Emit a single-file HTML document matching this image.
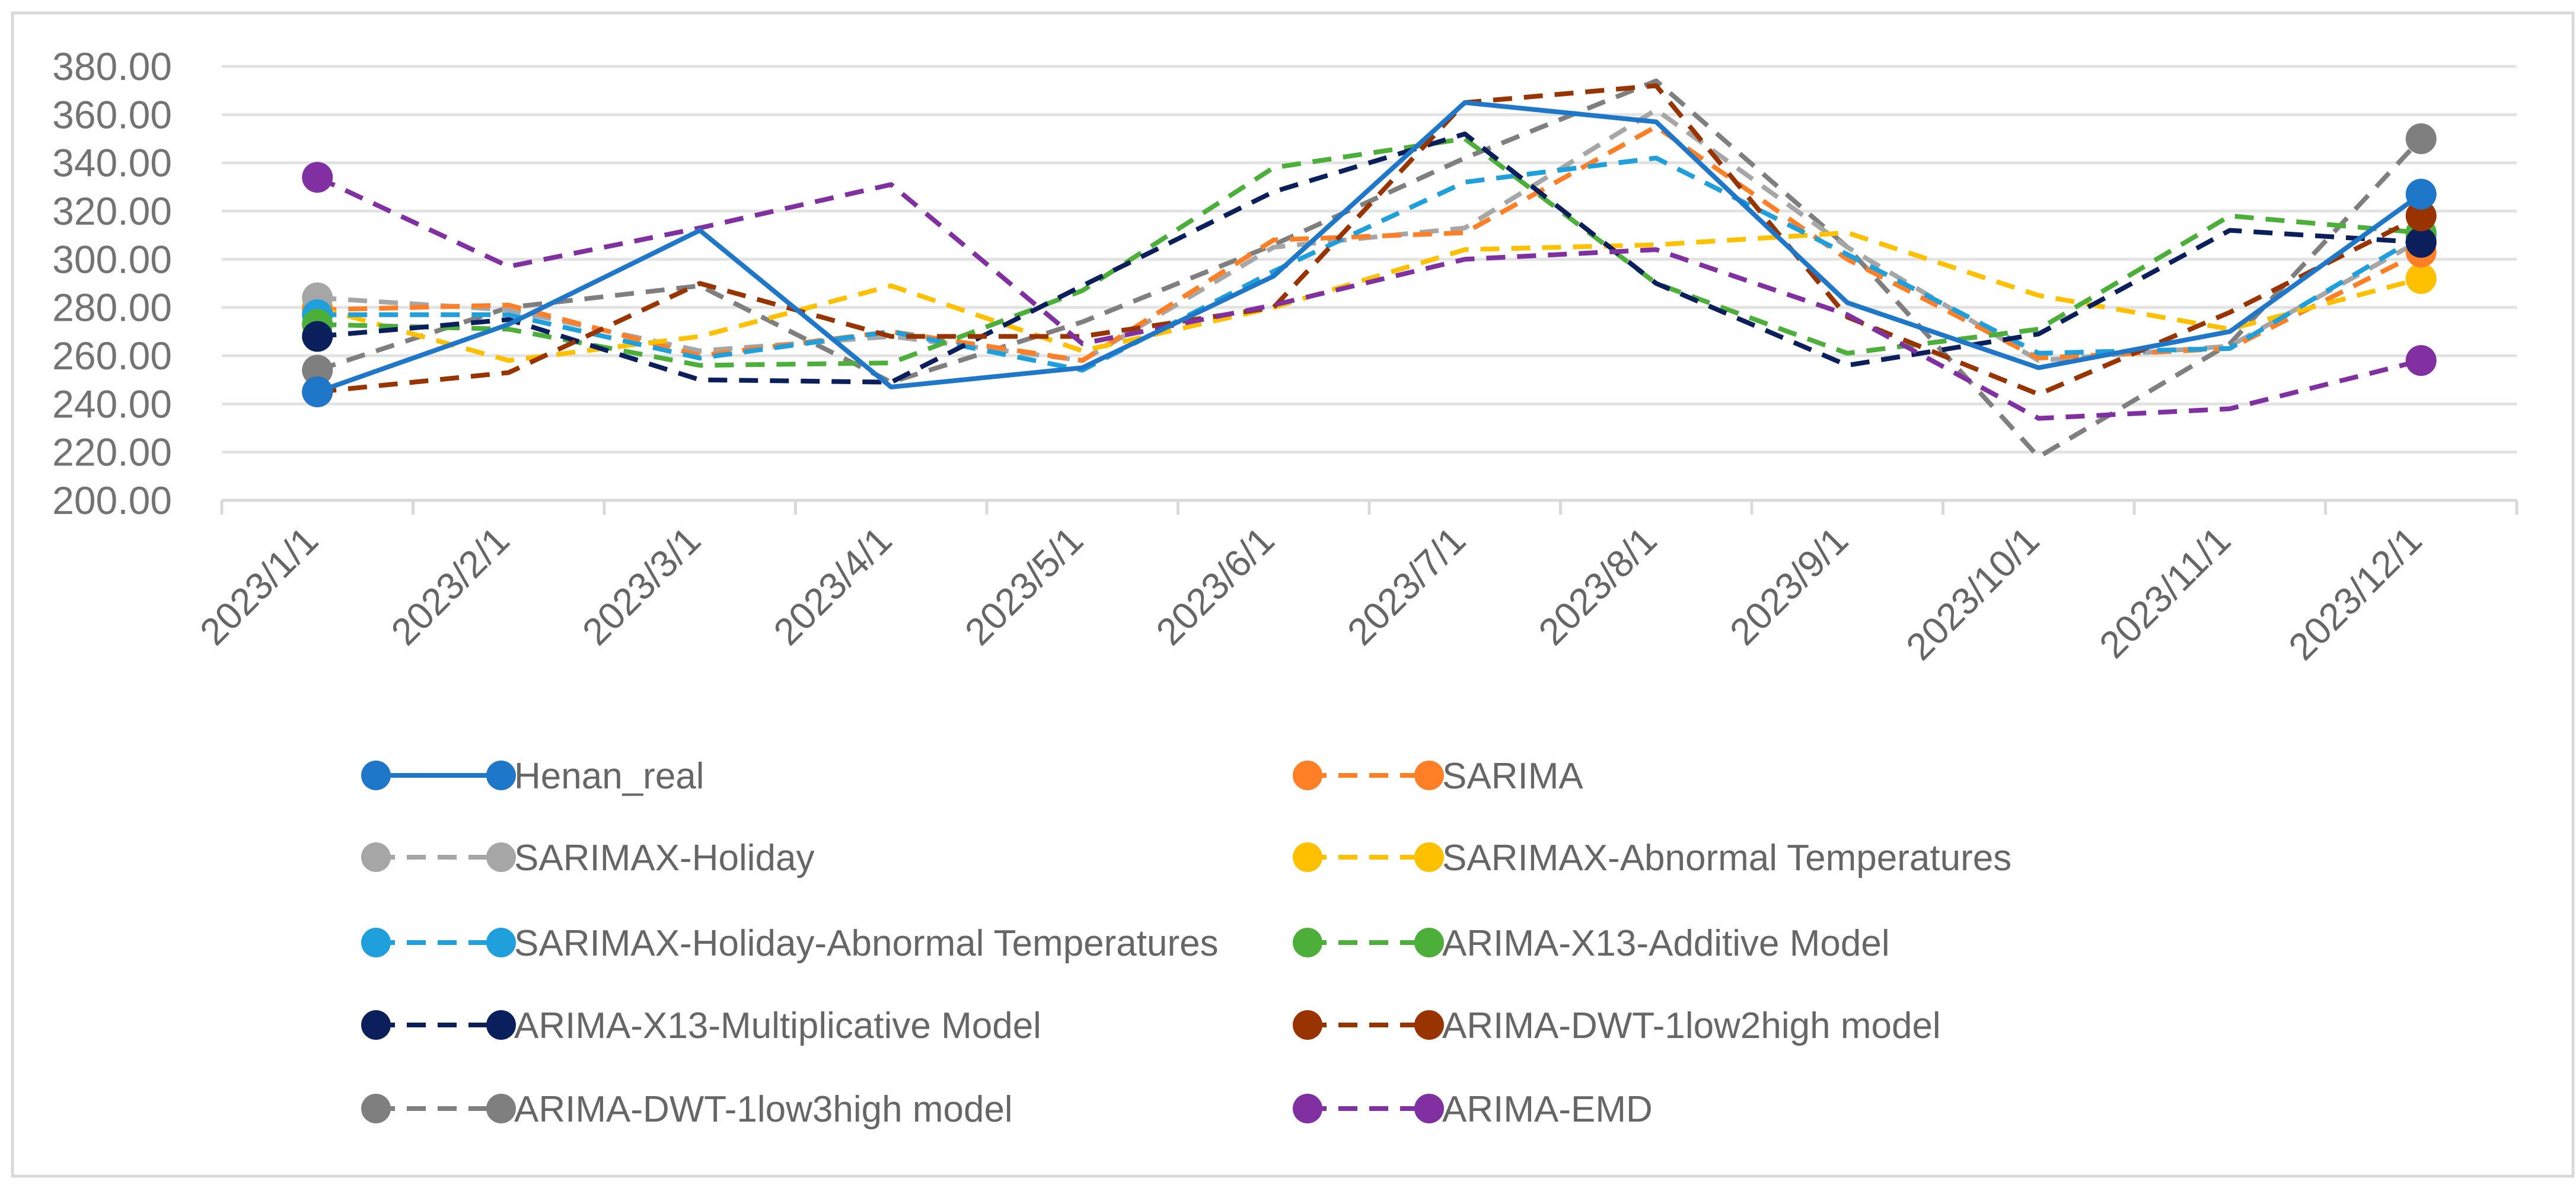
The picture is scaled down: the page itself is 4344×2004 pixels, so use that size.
<!DOCTYPE html>
<html><head><meta charset="utf-8"><style>
html,body{margin:0;padding:0;background:#fff}
svg{display:block;font-family:"Liberation Sans",sans-serif}
</style></head><body>
<svg id="chart" width="4344" height="2004" viewBox="0 0 4344 2004" xmlns="http://www.w3.org/2000/svg">
<rect x="21" y="22" width="4318" height="1962" fill="#fff" stroke="#d9d9d9" stroke-width="5"/>
<g id="grid"></g><g id="axes"></g><g id="series"></g><g id="legend"></g>
</svg>
<script>
const categories = ["2023/1/1","2023/2/1","2023/3/1","2023/4/1","2023/5/1","2023/6/1","2023/7/1","2023/8/1","2023/9/1","2023/10/1","2023/11/1","2023/12/1"];
const yTicks = [200,220,240,260,280,300,320,340,360,380];
const seriesNames = ["Henan_real","SARIMA","SARIMAX-Holiday","SARIMAX-Abnormal Temperatures","SARIMAX-Holiday-Abnormal Temperatures","ARIMA-X13-Additive Model","ARIMA-X13-Multiplicative Model","ARIMA-DWT-1low2high model","ARIMA-DWT-1low3high model","ARIMA-EMD"];
const seriesColors = ["#1f77c9","#ff7f27","#a6a6a6","#ffc000","#1fa0dc","#4caf3a","#0a1f5c","#993300","#7f7f7f","#8030a0"];
const henanReal = [245,273,312,247,255,293,365,357,282,255,270,327];
const sarima = [279,281,260,270,258,308,311,355,300,259,263,303];
const sarimaxHoliday = [284,279,262,268,258,305,313,362,305,258,264,308];
const sarimaxAbnormal = [280,258,268,289,262,280,304,306,311,285,271,292];
const sarimaxHolAbn = [277,277,259,270,254,295,332,342,302,261,263,310];
const x13Additive = [273,271,256,257,287,338,350,290,261,271,318,311];
const x13Multi = [268,275,250,249,289,328,352,290,256,269,312,307];
const dwt12 = [245,253,290,268,268,280,365,372,276,244,278,318];
const dwt13 = [254,280,289,249,274,306,342,374,305,218,265,350];
const emd = [334,297,313,331,265,281,300,304,277,234,238,258];
const seriesValues = [henanReal,sarima,sarimaxHoliday,sarimaxAbnormal,sarimaxHolAbn,x13Additive,x13Multi,dwt12,dwt13,emd];

const NS="http://www.w3.org/2000/svg";
const L=374,R=4244,T=112,B=844,yMin=200,yMax=380;
const step=(R-L)/categories.length;
const xPos=i=>L+step*(i+0.5);
const yPos=v=>B-(v-yMin)/(yMax-yMin)*(B-T);
function mk(tag,attrs,parent){const e=document.createElementNS(NS,tag);for(const k in attrs)e.setAttribute(k,attrs[k]);parent.appendChild(e);return e;}
const grid=document.getElementById('grid'),axes=document.getElementById('axes'),ser=document.getElementById('series'),leg=document.getElementById('legend');
yTicks.forEach(v=>{
  if(v>yMin){const g=mk('line',{x1:L,x2:R,y1:yPos(v),y2:yPos(v),stroke:'#e3e3e3','stroke-width':5},grid);
  
  }
  const t=mk('text',{x:290,y:yPos(v)+23,'text-anchor':'end','font-size':66,fill:'#737373'},axes);
  t.textContent=v.toFixed(2);
  
  
});
const ax=mk('line',{x1:L,x2:R,y1:B,y2:B,stroke:'#d9d9d9','stroke-width':5},axes);


for(let i=0;i<=categories.length;i++){const tk=mk('line',{x1:L+step*i,x2:L+step*i,y1:B,y2:B+24,stroke:'#d9d9d9','stroke-width':5},axes);

}
categories.forEach((c,i)=>{
  const x=xPos(i)+5,y=B+72;
  const t=mk('text',{x:x,y:y,'text-anchor':'end','font-size':64,fill:'#666',transform:`rotate(-45 ${x} ${y})`},axes);
  t.textContent=c;
  
  
});
const draw=[8,2,1,3,4,5,6,7,9,0];
draw.forEach(s=>{
  const vals=seriesValues[s];
  const pts=vals.map((v,i)=>xPos(i)+','+yPos(v)).join(' ');
  const a={points:pts,fill:'none',stroke:seriesColors[s],'stroke-width':8,'stroke-linejoin':'round'};
  if(s>0)a['stroke-dasharray']='32 20';
  const p=mk('polyline',a,ser);
  
  
});
[3,1,2,4,5,6,8,7,9,0].forEach(s=>{
  const vals=seriesValues[s];
  [0,vals.length-1].forEach(i=>{
    const c=mk('circle',{cx:xPos(i),cy:yPos(vals[i]),r:26,fill:seriesColors[s]},ser);
    
    
  });
});
const legRows=[1308,1446,1590,1729,1870];
seriesNames.forEach((n,s)=>{
  const col=s%2,row=Math.floor(s/2);
  const x0=col?2205:634,x1=col?2410:845,y=legRows[row];
  const g=mk('g',{},leg);
  
  
  const a={x1:x0,x2:x1,y1:y,y2:y,stroke:seriesColors[s],'stroke-width':8};
  if(s>0)a['stroke-dasharray']='32 20';
  mk('line',a,g);
  mk('circle',{cx:x0,cy:y,r:25,fill:seriesColors[s]},g);
  mk('circle',{cx:x1,cy:y,r:25,fill:seriesColors[s]},g);
  const t=mk('text',{x:x1+22,y:y+22,'font-size':62,fill:'#666'},g);
  t.textContent=n;
  
  
});
</script>
</body></html>
